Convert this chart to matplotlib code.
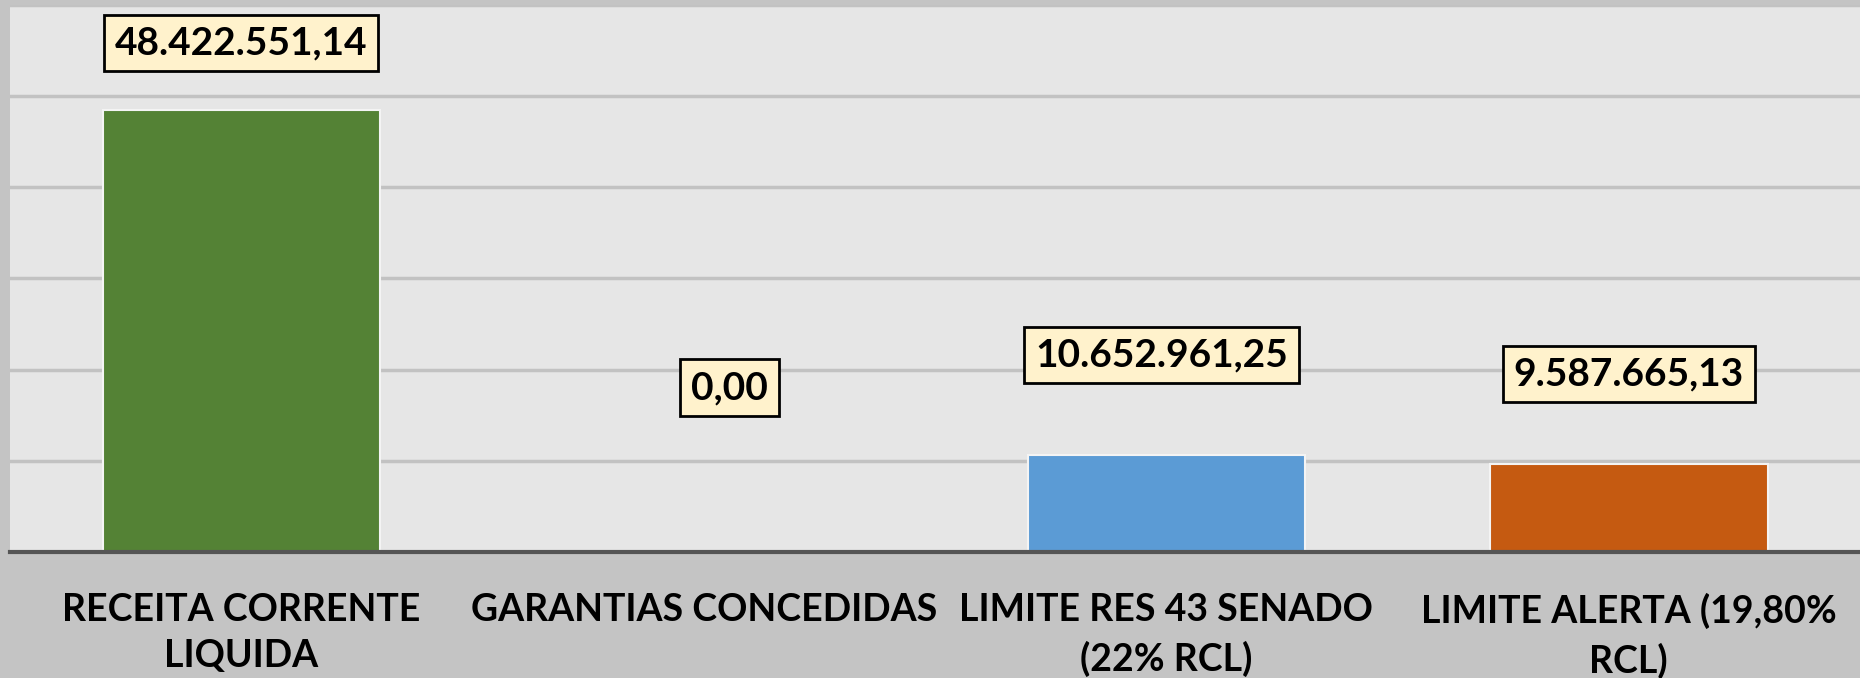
import matplotlib.pyplot as plt

categories = ['RECEITA CORRENTE\nLIQUIDA', 'GARANTIAS CONCEDIDAS',
              'LIMITE RES 43 SENADO\n(22% RCL)', 'LIMITE ALERTA (19,80%\nRCL)']
values = [48422551.14, 0.00, 10652961.25, 9587665.13]
value_labels = ['48.422.551,14', '0,00', '10.652.961,25', '9.587.665,13']
colors = ['#548235', '#548235', '#5b9bd5', '#c55a11']

# where the label boxes sit (data units), placed by hand like in the source
label_y = [55.8e6, 18.0e6, 21.6e6, 19.5e6]
label_dx = [0.0, 0.056, -0.01, 0.0]

plt.rcParams['font.family'] = ['Lato', 'DejaVu Sans']

fig = plt.figure(figsize=(18.6, 6.78), dpi=100, facecolor='#c4c4c4')
ax = fig.add_axes([0.0054, 0.186, 0.9946, 0.807])
ax.set_facecolor('#e6e6e6')

x = range(len(categories))
ax.bar(x, values, width=0.6, color=colors, edgecolor='#f4f4f4', linewidth=1.5, zorder=3)

ax.set_xlim(-0.5, 3.5)
ax.set_ylim(0, 60e6)
ax.set_yticks([i * 10e6 for i in range(7)])
ax.yaxis.grid(True, color='#c2c2c2', linewidth=2.5, zorder=0)
ax.set_axisbelow(True)
ax.tick_params(axis='y', left=False, labelleft=False)
ax.tick_params(axis='x', bottom=False, pad=26)
ax.set_xticks(list(x))
ax.set_xticklabels(categories, fontsize=27, fontweight='bold', linespacing=1.45)

for s in ['top', 'right', 'left']:
    ax.spines[s].set_visible(False)
ax.spines['bottom'].set_color('#555555')
ax.spines['bottom'].set_linewidth(3)
ax.spines['bottom'].set_zorder(4)

for i, lab in enumerate(value_labels):
    ax.text(i + label_dx[i], label_y[i], lab, ha='center', va='center',
            fontsize=28, fontweight='bold', color='black', zorder=5,
            bbox=dict(boxstyle='square,pad=0.28', facecolor='#fff2cc',
                      edgecolor='black', linewidth=2))

fig.savefig('out.png', dpi=100, facecolor=fig.get_facecolor())
